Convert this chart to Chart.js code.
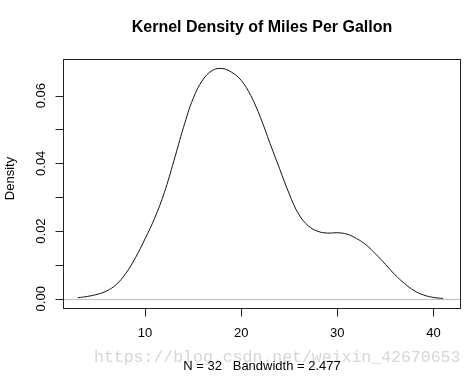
<!DOCTYPE html>
<html>
<head>
<meta charset="utf-8">
<script src="https://cdn.jsdelivr.net/npm/chart.js@4/dist/chart.umd.min.js"></script>
<style>
html,body{margin:0;padding:0;background:#fff;}
#wrap{width:475px;height:378px;}
</style>
</head>
<body>
<div id="wrap"><canvas id="c" width="475" height="378"></canvas></div>
<script>
// Data
const mpgX = [3,4,5,6,7,8,9,10,11,12,13,14,15,16,17,18,19,20,21,22,23,24,25,26,27,28,29,30,31,32,33,34,35,36,37,38,39,40,41];
const densityY = [0.0003,0.0007,0.0013,0.0023,0.0042,0.0075,0.0121,0.0177,0.0238,0.0313,0.0407,0.0506,0.0591,0.0646,0.0674,0.0680,0.0669,0.0645,0.0600,0.0536,0.0459,0.0384,0.0310,0.0249,0.0215,0.0199,0.0194,0.0195,0.0191,0.0178,0.0159,0.0132,0.0102,0.0071,0.0045,0.0024,0.0011,0.0004,0.0001];
const xTicks = [10,20,30,40];
const xTickLabels = ["10","20","30","40"];
const yTicks = [0,0.01,0.02,0.03,0.04,0.05,0.06];
const yTickLabels = ["0.00","","0.02","","0.04","","0.06"];
const titleText = "Kernel Density of Miles Per Gallon";
const subText = "N = 32   Bandwidth = 2.477";
const yLabel = "Density";
const watermark = "https://blog.csdn.net/weixin_42670653";

const points = mpgX.map((x,i)=>({x:x,y:densityY[i]}));

const rPlot = {
  id:'rPlot',
  beforeDatasetsDraw(chart){
    const ctx = chart.ctx, a = chart.chartArea, ys = chart.scales.y;
    const y0 = Math.round(ys.getPixelForValue(0)) + 0.5;
    ctx.save();
    ctx.strokeStyle = '#bebebe';
    ctx.lineWidth = 1;
    ctx.beginPath(); ctx.moveTo(a.left, y0); ctx.lineTo(a.right, y0); ctx.stroke();
    ctx.restore();
  },
  afterDraw(chart){
    const ctx = chart.ctx, a = chart.chartArea, xs = chart.scales.x, ys = chart.scales.y;
    ctx.save();
    // watermark
    ctx.fillStyle = 'rgba(200,200,200,0.75)';
    ctx.font = '16.5px "Liberation Mono", "DejaVu Sans Mono", monospace';
    ctx.textAlign = 'left'; ctx.textBaseline = 'alphabetic';
    ctx.fillText(watermark, 94, 362);
    // box
    ctx.strokeStyle = '#222'; ctx.lineWidth = 1;
    const L = Math.round(a.left)+0.5, R = Math.round(a.right)-0.5, T = Math.round(a.top)+0.5, B = Math.round(a.bottom)+0.5;
    ctx.strokeRect(L, T, R-L, B-T);
    // x ticks
    ctx.fillStyle = '#000';
    ctx.font = '13px "Liberation Sans", Arial, sans-serif';
    ctx.textAlign = 'center';
    ctx.beginPath();
    const xp0 = Math.round(xs.getPixelForValue(xTicks[0]))+0.5, xp1 = Math.round(xs.getPixelForValue(xTicks[xTicks.length-1]))+0.5;
    ctx.moveTo(xp0, B); ctx.lineTo(xp1, B);
    xTicks.forEach(v=>{const p=Math.round(xs.getPixelForValue(v))+0.5; ctx.moveTo(p,B); ctx.lineTo(p,B+8);});
    ctx.stroke();
    xTicks.forEach((v,i)=>{ctx.fillText(xTickLabels[i], xs.getPixelForValue(v), 337);});
    // y ticks
    ctx.beginPath();
    yTicks.forEach(v=>{const p=Math.round(ys.getPixelForValue(v))+0.5; ctx.moveTo(L,p); ctx.lineTo(L-8,p);});
    ctx.stroke();
    yTicks.forEach((v,i)=>{
      if(!yTickLabels[i]) return;
      ctx.save(); ctx.translate(45, ys.getPixelForValue(v)); ctx.rotate(-Math.PI/2);
      ctx.fillText(yTickLabels[i], 0, 0); ctx.restore();
    });
    // y label
    ctx.save(); ctx.translate(14, (a.top+a.bottom)/2 - 5); ctx.rotate(-Math.PI/2);
    ctx.fillText(yLabel, 0, 0); ctx.restore();
    // sub text
    ctx.fillText(subText, (a.left+a.right)/2, 370);
    // title
    ctx.font = 'bold 16px "Liberation Sans", Arial, sans-serif';
    ctx.fillText(titleText, (a.left+a.right)/2, 32);
    ctx.restore();
  }
};

new Chart(document.getElementById('c'), {
  type:'line',
  data:{datasets:[{data:points, borderColor:'#111', borderWidth:1, pointRadius:0, fill:false, tension:0.4}]},
  options:{
    responsive:false, animation:false, devicePixelRatio:1,
    layout:{padding:{left:63, right:14, top:59, bottom:70}},
    plugins:{legend:{display:false}, title:{display:false}, tooltip:{enabled:false}},
    scales:{
      x:{type:'linear', display:false, min:1.466, max:42.87},
      y:{type:'linear', display:false, min:-0.00272, max:0.0708}
    }
  },
  plugins:[rPlot]
});
</script>
</body>
</html>
